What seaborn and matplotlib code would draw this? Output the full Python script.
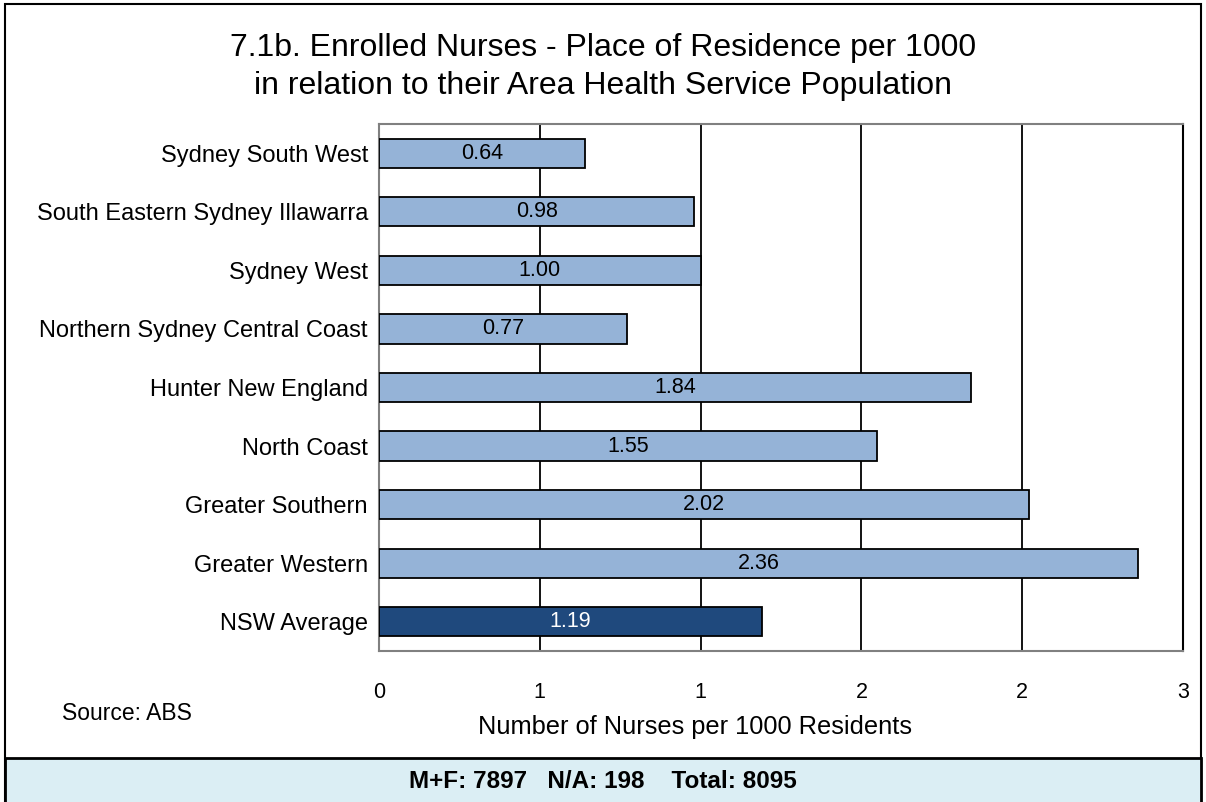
import matplotlib
matplotlib.use("Agg")
import matplotlib.pyplot as plt
import numpy as np
import pandas as pd
import seaborn as sns
from matplotlib.patches import Rectangle

# data
areas = [
    "Sydney South West",
    "South Eastern Sydney Illawarra",
    "Sydney West",
    "Northern Sydney Central Coast",
    "Hunter New England",
    "North Coast",
    "Greater Southern",
    "Greater Western",
    "NSW Average",
]
nurses_per_1000 = [0.64, 0.98, 1.00, 0.77, 1.84, 1.55, 2.02, 2.36, 1.19]
x_ticks = [0.0, 0.5, 1.0, 1.5, 2.0, 2.5]
x_tick_labels = ["0", "1", "1", "2", "2", "3"]  # Excel rounds to 0 dp
footer_text = "M+F: 7897   N/A: 198    Total: 8095"

LIGHT = "#95B3D7"
DARK = "#1F497D"

sns.set_style("white")
plt.rcParams["font.family"] = ["Liberation Sans", "DejaVu Sans"]
plt.rcParams["text.color"] = "black"
plt.rcParams["xtick.color"] = "black"
plt.rcParams["ytick.color"] = "black"
plt.rcParams["axes.labelcolor"] = "black"

df = pd.DataFrame({"area": areas, "rate": nurses_per_1000})
colors = {a: (DARK if a == "NSW Average" else LIGHT) for a in areas}

fig = plt.figure(figsize=(12.06, 8.02), dpi=100)
ax = fig.add_axes([379 / 1206, 1 - 651 / 802, (1183 - 379) / 1206, (651 - 124) / 802])

sns.barplot(
    data=df, x="rate", y="area", hue="area", palette=colors, legend=False,
    orient="h", width=0.5, saturation=1, edgecolor="black", linewidth=1.3,
    ax=ax, zorder=3,
)

for cont, area in zip(ax.containers, areas):
    tc = "white" if area == "NSW Average" else "black"
    ax.bar_label(cont, fmt="%.2f", label_type="center", color=tc, fontsize=15.5)

ax.set_xlim(0, 2.5)
ax.set_xticks(x_ticks)
ax.set_xticklabels(x_tick_labels, fontsize=15.5)
ax.tick_params(axis="x", length=0, pad=22)
ax.tick_params(axis="y", length=0, pad=8, labelsize=17)
for x in x_ticks[1:]:
    ax.axvline(x, color="black", lw=1.3, zorder=1)
for side in ["top", "bottom", "left"]:
    ax.spines[side].set_color("#808080")
    ax.spines[side].set_linewidth(1.5)
ax.spines["right"].set_color("black")
ax.spines["right"].set_linewidth(1.5)

ax.set_ylabel("")
ax.set_xlabel("Number of Nurses per 1000 Residents", fontsize=18.3)
ax.xaxis.set_label_coords((695 - 379) / 804, -0.122)

fig.text(0.5, 1 - 67 / 802,
         "7.1b. Enrolled Nurses - Place of Residence per 1000\nin relation to their Area Health Service Population",
         ha="center", va="center", fontsize=23, linespacing=1.33)
fig.text(62 / 1206, 1 - 714 / 802, "Source: ABS", ha="left", va="center", fontsize=16.5)

# outer frame and footer panel
fig.patches.append(Rectangle((5 / 1206, -0.01), 1196 / 1206, 1.01 - 4 / 802,
                             transform=fig.transFigure, fill=False,
                             edgecolor="black", lw=1.5))
fig.patches.append(Rectangle((5 / 1206, -0.01), 1196 / 1206, (802 - 758) / 802 + 0.01,
                             transform=fig.transFigure, facecolor="#DBEEF4",
                             edgecolor="black", lw=2))
fig.text(0.5, 1 - 781 / 802, footer_text, ha="center", va="center", fontsize=17.5,
         fontweight="bold")

fig.savefig("out.png", dpi=100)
plt.close()
